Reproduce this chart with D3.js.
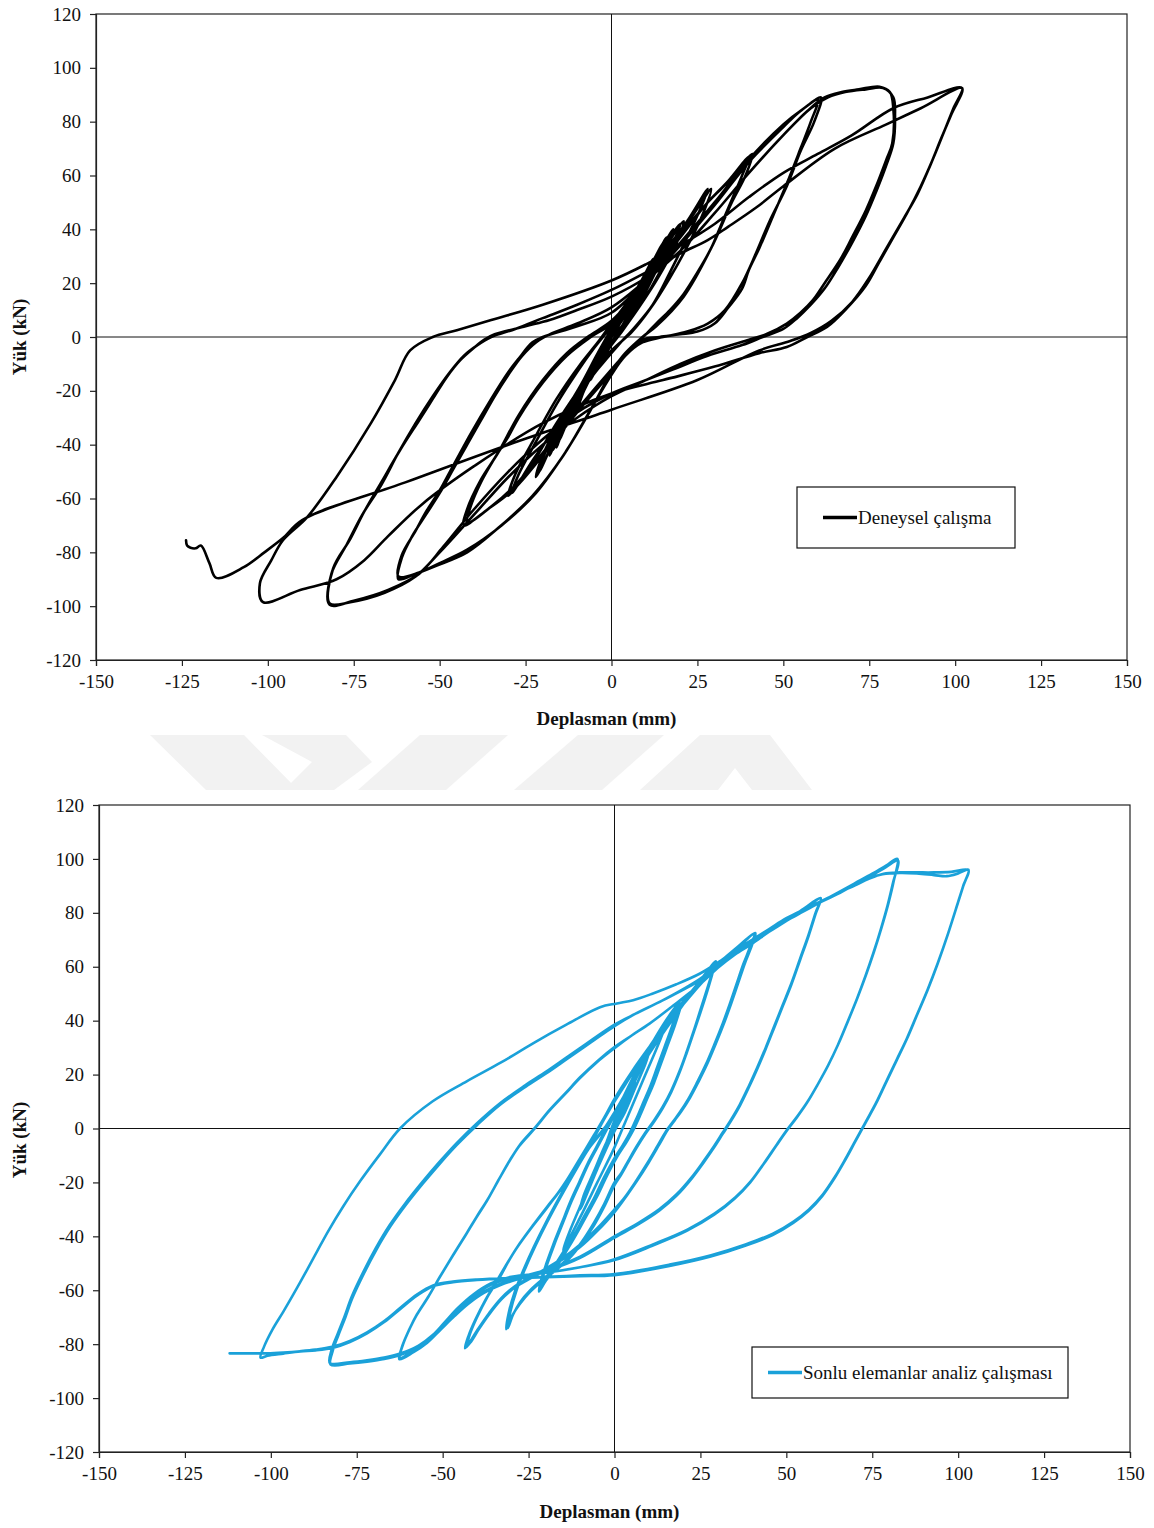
<!DOCTYPE html>
<html><head><meta charset="utf-8">
<script src="https://cdn.jsdelivr.net/npm/d3@7"></script>
<style>body{margin:0;background:#fff}svg{display:block}</style>
</head><body>
<svg id="chart" width="1154" height="1528"></svg>
<script>
// ---------- axis tick values ----------
const xTickValues = [-150,-125,-100,-75,-50,-25,0,25,50,75,100,125,150];
const yTickValues = [-120,-100,-80,-60,-40,-20,0,20,40,60,80,100,120];
const xTitle = "Deplasman (mm)";
const yTitle = "Yük (kN)";
const legendExp = "Deneysel çalışma";
const legendFE = "Sonlu elemanlar analiz çalışması";

// ---------- Experimental (Deneysel) : [displacement mm, load kN] ----------
const expSmall = [
[0,0],[2,5],[4,10],[5,12],[4,9],[2,4],[0,0],[-2,-5],[-4,-10],[-5,-13],[-4,-9],[-2,-4],[0,0],
[3,8],[6,15],[5,11],[3,6],[0,1],[-3,-8],[-6,-16],[-5,-12],[-3,-6],[0,0],
[4,10],[8,19],[10,24],[9,20],[6,12],[3,4],[0,0],[-4,-10],[-8,-20],[-10,-27],[-9,-22],[-6,-14],[-3,-6],[0,0],
[5,12],[10,24],[12,29],[10,22],[7,13],[3,4],[0,0],[-5,-12],[-10,-25],[-12,-31],[-10,-24],[-7,-15],[-3,-6],[0,1],
[6,15],[12,28],[15,35],[13,28],[9,17],[5,7],[1,0],[-5,-11],[-11,-26],[-15,-38],[-13,-31],[-9,-20],[-4,-8],[0,1],
[7,16],[13,30],[16,37],[14,29],[10,18],[5,7],[1,0],[-6,-13],[-12,-28],[-16,-41],[-14,-33],[-10,-22],[-5,-9],[0,2],
[8,18],[15,33],[17,38],[15,31],[11,20],[6,9],[2,1],[-4,-9],[-10,-22],[-17,-42],[-15,-35],[-11,-25],[-6,-13],[-2,-3],[0,2],
[7,17],[14,32],[18,40],[16,33],[12,22],[7,10],[2,1],[-5,-11],[-11,-24],[-18,-44],[-16,-37],[-12,-27],[-7,-15],[-2,-4],[0,2]
];
const exp20 = [
[8,19],[14,31],[20,42],[18,35],[14,24],[9,13],[4,4],[0,-2],[-7,-16],[-14,-31],[-21,-50],[-19,-42],[-14,-30],[-9,-18],[-4,-7],[0,2],
[8,18],[14,30],[21,43],[19,35],[14,23],[8,11],[3,2],[0,-3],[-7,-17],[-14,-32],[-22,-52],[-20,-44],[-15,-31],[-9,-18],[-4,-6],[0,3]
];
const exp30 = [
[8,19],[15,31],[22,43],[28,55],[26,48],[22,37],[17,24],[12,12],[7,4],[2,-3],[-4,-12],[-10,-22],[-17,-35],[-23,-46],[-29,-58],[-27,-51],[-22,-39],[-16,-25],[-10,-13],[-5,-4],[0,4],
[8,18],[15,30],[23,44],[29,55],[27,47],[23,36],[17,22],[11,10],[6,2],[0,-5],[-8,-17],[-16,-32],[-23,-47],[-30,-59],[-28,-51],[-23,-39],[-16,-23],[-9,-10],[-4,-2],[0,5]
];
const exp40 = [
[10,22],[20,38],[28,50],[34,58],[40,67],
[38,60],[35,51],[32,42],[29,33],[25,24],[21,16],[17,10],[13,5],[10,1],[5,-5],[0,-12],[-10,-27],[-20,-43],[-28,-55],[-35,-63],[-42,-69],
[-41,-63],[-38,-54],[-34,-45],[-30,-37],[-27,-30],[-20,-17],[-13,-7],[-6,0],[0,5],
[10,21],[20,37],[28,50],[35,59],[41,68],
[39,60],[35,50],[29,33],[21,15],[13,4],[9,0],[4,-6],[0,-13],[-10,-28],[-20,-44],[-28,-56],[-36,-64],[-43,-70],
[-42,-64],[-38,-53],[-33,-43],[-27,-29],[-20,-16],[-13,-6],[-7,0],[0,6]
];
const exp60 = [
[10,20],[20,34],[30,49],[40,65],[50,78],[55,84],[60,88],
[58,80],[55,70],[51,57],[47,45],[43,33],[40,25],[38,18],[34,11],[30,5],[25,2],[20,1],[14,0],[9,-1],[4,-6],[0,-13],[-6,-27],[-13,-42],[-22,-58],[-32,-70],[-42,-79],[-50,-84],[-56,-87.5],[-62,-89],
[-61,-81],[-57,-72],[-54,-65],[-50,-57],[-47,-50],[-44,-43],[-41,-36],[-35,-23],[-30,-13],[-27,-8],[-23,-2],[-20,0],[-10,4],[0,9],
[10,21],[20,35],[30,50],[40,66],[50,79],[56,85],[61,89],
[59,80],[55,69],[51,56],[46,43],[42,31],[38,20],[33,10],[28,5],[22,2],[15,0],[9,-2],[4,-7],[0,-14],[-7,-29],[-14,-44],[-23,-59],[-33,-71],[-42,-80],[-51,-85],[-57,-88],[-62,-90],
[-61,-82],[-58,-74],[-54,-66],[-50,-58],[-46,-49],[-42,-40],[-38,-31],[-34,-22],[-30,-14],[-26,-7],[-22,-2],[-18,1],[-10,5],[0,11]
];
const exp80 = [
[10,21],[20,32],[30,46],[40,61],[50,75],[57,84],[62,89],[67,91],[72,92],[78,93],[81,91],
[82,85],[81.7,72],[80,66],[77,56],[74,47],[70,37],[66.5,28.6],[62,20],[58.6,13.7],[55,9],[51,5],[45,1],[40,-1],[30,-5],[20,-10],[10,-16],[0,-22],[-10,-30],[-20,-40],[-30,-52],[-40,-66],[-50,-80],[-57,-89],[-66,-95],[-76,-98.5],[-82,-99],
[-81,-86],[-76,-75],[-72,-65],[-67,-54],[-61.5,-42],[-56,-31],[-52,-23],[-48,-15],[-44,-8.6],[-40,-4],[-37,-1],[-34,1],[-25,4],[-18,6.3],[-10,10],[0,15],
[10,22],[20,32],[30,46],[40,61],[50,75],[58,85],[63,89],[68,91],[74,92],[79,92.5],[82,89],
[82.5,82],[82,72],[80,64],[77,54],[74,45],[70,35],[66,26],[62,18],[58,12],[54,7],[50,3],[44,0],[38,-3],[28,-7],[18,-12],[8,-17],[0,-21],[-10,-28],[-20,-38],[-30,-50],[-40,-64],[-49,-78],[-56,-88],[-65,-94],[-75,-98],[-82,-99.5],
[-81.5,-88],[-77,-77],[-72.5,-66],[-67,-55],[-62,-43],[-57,-32],[-52,-22],[-47,-13],[-43,-7],[-39,-3],[-35,0],[-28,3],[-20,7],[-10,12],[0,17.5]
];
const exp100 = [
[10,24],[20,31],[28,36],[34,41],[42,48],[50,56],[65,70],[80,79],[90,85],[102,92.5],
[99.5,85],[97,77],[93.5,66],[90,56],[86,46],[82,37],[78,28],[74,19],[68,10],[62.7,3.7],[57,0],[51,-3.7],[43,-6],[30,-11],[15,-16],[0,-21],[-20,-32],[-40,-48],[-55,-62],[-65,-74],[-72,-83],[-80,-90],[-90.6,-94],[-101.4,-98.5],
[-102.3,-91.5],[-99,-83],[-95.6,-75.5],[-88.6,-67],[-80,-52],[-70,-32],[-63,-16],[-58.6,-5],[-52,0],[-45,2.5],[-35,6.3],[-20,12],[0,21],
[10,27],[20,34],[30,42],[40,52],[50,61],[60,68],[70,75],[82,85],[92,89],[102,92.5],
[99,83],[96,74],[92.5,63],[89,53],[85,44],[80,33],[75,22],[70,13],[64,6],[58,1.5],[52,-1.5],[43,-5],[25,-16],[0,-27],[-30,-40],[-60,-54],[-90,-68],[-95.6,-74.7],[-101,-80],[-107,-85.5],[-115,-89.5],[-117,-84],[-119.5,-77.5],[-121,-78.5],[-122.5,-78.3],[-123.5,-77.5],[-123.8,-75.5]
];

// ---------- Finite element (Sonlu elemanlar) : [displacement mm, load kN] ----------
const feSmall = [
[0,0],[3,9],[6,17],[5,14],[3,8],[0,0],[-3,-9],[-6,-17],[-5,-14],[-3,-8],[0,0],
[5,15],[10,28],[9,24],[6,15],[3,6],[0,-1],[-5,-15],[-10,-30],[-9,-25],[-6,-16],[-3,-7],[0,1],
[6,18],[12,33],[15,39],[13,32],[9,20],[5,8],[2,-1],[0,-7],[-5,-20],[-10,-33],[-15,-45],[-13,-38],[-9,-26],[-5,-14],[-2,-4],[0,3]
];
const fe20 = [
[4,13],[8,24],[12,33],[16,41],[19,47],
[18,43],[16.5,37],[14.5,30],[12.5,23],[10.5,16],[8.5,10],[6.5,4],[4.5,-1.5],[2.5,-6],[0,-11],[-3,-18],[-6,-26],[-9,-33],[-12,-40],[-15,-46],[-18,-52],[-20.5,-57],[-21.7,-60],
[-21,-56],[-19.5,-50],[-17.5,-43],[-15,-35],[-12.5,-27],[-10,-20],[-7.5,-13],[-5,-7],[-2.5,-1],[0,5],
[4,15],[8,25],[12,34],[16,42],[20,48.5],
[19,44],[17.5,38],[15.5,31],[13.5,24],[11.5,17],[9.5,11],[7.5,5],[5.5,-0.5],[3.5,-5],[1,-10],[-2,-17],[-5,-25],[-8,-32],[-11,-39],[-14,-45.5],[-17,-51.5],[-20,-56.5],[-22,-60.5],
[-21.3,-56],[-19.8,-50],[-17.8,-43],[-15.3,-35],[-12.8,-27],[-10.3,-20],[-7.8,-13],[-5.3,-7],[-2.8,-1],[0,5]
];
const fe30 = [
[5,18],[10,30],[15,39],[20,47],[25,55],[29.5,62],
[28.5,58],[27,52],[25,44],[23,36],[21,28.5],[19,21.5],[16.5,14],[14,8],[11.5,3],[9,-1.5],[6.5,-6.5],[4,-12],[2,-16.5],[0,-20],[-3,-28],[-6,-35],[-9.5,-42],[-13,-47.5],[-17,-52],[-21,-56],[-24.5,-60],[-27.5,-64.5],[-29.5,-69],[-31,-74],
[-30.3,-68],[-28.5,-60],[-26,-52],[-23,-43.5],[-19.5,-34.5],[-15.5,-25],[-11.5,-16],[-7.5,-7.5],[-3.5,-1],[0,6],[5,17],[10,27.5],[15,37],[20,46],[25,55],[29.5,62],
[28.5,57.5],[27,51],[25,43],[23,35.5],[21,28],[19,21],[16.5,13.5],[14,7.5],[11.5,2.5],[9,-2],[6.5,-7],[4,-12.5],[2,-17],[0,-21],[-3,-29],[-6,-36],[-9.5,-42.5],[-13,-48],[-17,-52.5],[-21,-56.5],[-24.5,-60.5],[-27.5,-65],[-29.8,-69.5],[-31.5,-74.5],
[-30.8,-68.5],[-29,-60.5],[-26.5,-52.5],[-23.5,-44],[-20,-35],[-16,-25.5],[-12,-16.5],[-8,-8],[-4,-1.5],[0,5]
];
const fe40 = [
[5,17],[10,28],[15,37],[20,46],[25,55],[30,61],[35,66.5],[40.6,72],
[39.5,67.5],[37.5,61],[35.5,53.5],[33.5,46],[31.5,39],[29,31],[26.5,23.5],[24,17],[21.5,11],[19,6],[17,2.5],[15,-1],[12.5,-6.5],[9.5,-13],[6,-20],[3,-25.5],[0,-30],
[-5,-37],[-10,-43],[-15,-48],[-20,-52],[-25,-55.5],[-29,-58.5],[-33,-63],[-36.5,-68.5],[-39.5,-74],[-42,-79],[-43,-81],
[-42,-76],[-40,-70],[-37,-62.5],[-33.3,-55],[-30.5,-48.5],[-27.5,-42.5],[-23.5,-35.5],[-19.6,-29],[-16.5,-24],[-13.8,-19],[-10,-11],[-6,-2.5],[-3,4],[0,11],[5,21],[10,30],[15,38.5],[20,46],[25,53.5],[30,60],[35,66],[41,72.5],
[40,68],[38,61.5],[36,54],[34,46.5],[32,39.5],[29.5,31.5],[27,24],[24.5,17.5],[22,11.5],[19.5,6.5],[17.5,3],[15.5,-0.5],[13,-6],[10,-12.5],[6.5,-19.5],[3.5,-25],[0,-31],
[-5,-38],[-10,-44],[-15,-48.5],[-20,-52.5],[-25,-56],[-29,-59],[-33,-63.5],[-36.5,-69],[-39.5,-74.5],[-42,-79.5],[-43.5,-81.5],
[-42.5,-77],[-40.5,-71],[-37.5,-63.5],[-34,-56],[-31,-49.5],[-28,-43.5],[-24,-36.5],[-20,-30],[-17,-25],[-14,-20],[-10,-12],[-6,-3.5],[-3,3.5],[0,10]
];
const fe60 = [
[5,20],[10,30],[15,38.5],[20,46.5],[25,54],[30,60],[35,65],[40,69],[45,73.5],[50,77],[55,81],[60,85.4],
[58.5,80],[56.5,72],[54,63],[51.5,54],[49,46],[46.5,38],[44,30],[41.5,22.5],[39,15.5],[36.5,9],[34,3.5],[31.5,-1.5],[29,-6.5],[26,-12],[22.5,-18],[18,-24.5],[13,-30],[7,-35],[0,-40],
[-10,-47.5],[-20,-52.5],[-27,-55],[-33,-57.5],[-38,-60.5],[-42.5,-64.5],[-46.5,-69],[-50.5,-74],[-54.5,-79],[-58.5,-82.5],[-62.4,-85],
[-61.5,-80],[-59.5,-74],[-57.5,-69],[-54,-62],[-50.8,-55],[-47,-47],[-43,-38.8],[-40,-32.5],[-37,-26.5],[-33.7,-19],[-30.4,-11.7],[-27.5,-6],[-23,0.5],[-18.8,7],[-14,13.5],[-10,19],[-5,25],[0,30.2],[5,34.5],[10.3,39],[17,45.5],[24.9,53.5],[30,59.5],[35,64.5],[40,68.5],[45,73],[50,77],[55,81.5],[60,85.5],
[58.5,79.5],[56.5,71.5],[54,62.5],[51.5,53.5],[49,45.5],[46.5,37.5],[44,29.5],[41.5,22],[39,15],[36.5,8.5],[34,3],[31.5,-2],[29,-7],[26,-12.5],[22.5,-18.5],[18,-25],[13,-30.5],[7,-35.5],[0,-40.5],
[-10,-48],[-20,-53],[-27,-55.5],[-33,-58],[-38,-61],[-42.5,-65],[-46.5,-69.5],[-50.5,-74.5],[-54.5,-79.5],[-58.5,-83],[-62.6,-85.6],
[-61.7,-80.5],[-59.7,-74.5],[-57.7,-69.5],[-54.2,-62.5],[-51,-55.5],[-47.2,-47.5],[-43.2,-39.3],[-40.2,-33],[-37.2,-27],[-33.9,-19.5],[-30.6,-12.2],[-27.7,-6.5],[-23.2,0],[-19,6.5],[-14.2,13],[-10.2,18.5],[-5.2,24.5],[0,29.8]
];
const fe80 = [
[5,34.5],[10.3,39],[17,45.5],[24.9,53.5],[30,59.5],[35,64.5],[40,68.5],[45,73],[50,77],[55,80.5],[60,84],[65,87],[70,90.5],[75,94],[79,97],[82.5,99.4],
[81,91],[79.5,83],[77.5,74],[75.3,65],[73,56.5],[70.5,48],[67.8,39.5],[65,31],[62,23],[59,16],[56,9.5],[53,4],[50,-1],[47,-6.5],[43.5,-13],[39.5,-20],[35,-26],[29,-32],[21,-38],[11,-43.5],[0,-48.8],
[-10,-51.5],[-20,-53.5],[-30,-55],[-36,-57.5],[-41,-61.5],[-45.5,-66.5],[-49.5,-72],[-52.8,-76.5],[-57,-80.5],[-62.4,-83.5],[-67,-85],[-72,-86],[-77,-86.7],[-82.8,-87],
[-82.3,-82],[-80.5,-76],[-78.5,-69.5],[-76.5,-62.5],[-73,-53],[-69.5,-44.5],[-65.5,-36],[-61,-28],[-56,-20],[-51,-12.5],[-46,-5.5],[-40,2],[-33.3,9.4],[-26,16],[-20,21],[-13.8,26.5],[-7,32.5],[0,38.5],[6,42.5],[14,47.5],[24.9,55],[30,60],[35,64.5],[40,69],[45,73],[50,77],[55,80.5],[60,84],[65,87.5],[70,91],[75,94.5],[79,97.5],[82.3,100],
[81.2,91.5],[79.7,83.5],[77.7,74.5],[75.5,65.5],[73.2,57],[70.7,48.5],[68,40],[65.2,31.5],[62.2,23.5],[59.2,16.5],[56.2,10],[53.2,4.5],[50.2,-0.5],[47.2,-6],[43.7,-12.5],[39.7,-19.5],[35.2,-25.5],[29.2,-31.5],[21.2,-37.5],[11.2,-43],[0,-48.5],
[-10,-51.5],[-20,-53.5],[-30,-55.3],[-36,-58],[-41,-62],[-45.5,-67],[-49.5,-72.5],[-52.8,-77],[-57,-81],[-62.4,-84],[-67,-85.5],[-72,-86.5],[-77,-87.2],[-82.6,-87.6],
[-82,-82.5],[-80.3,-76.5],[-78.3,-70],[-76.3,-63],[-72.8,-53.5],[-69.3,-45],[-65.3,-36.5],[-60.8,-28.5],[-55.8,-20.5],[-50.8,-13],[-45.8,-6],[-39.8,1.5],[-33.1,9],[-25.8,15.5],[-19.8,20.5],[-13.6,26],[-6.8,32],[0,38]
];
const fe100 = [
[6,42.5],[14,47.5],[24.9,55.5],[30,60.5],[35,65],[40,69.5],[45,73.5],[50,77.5],[55,81],[60,84],[65,87.5],[70,90.5],[74,92.8],[78,94.3],[83,94.8],[88,94.6],[93,94],[96.7,93.6],[100,94.6],[103,96],
[101.5,90],[100,84],[97,72],[94,61],[91,51],[88,42],[85,33],[82,25],[79,17],[76,9],[73,2],[70,-5],[67,-12],[64,-18.5],[60.5,-25],[56.5,-30.5],[52,-35],[46,-39.5],[38,-43.5],[28,-47.5],[16,-51],[0,-54.4],
[-10,-54.8],[-20,-55.2],[-30,-55.6],[-40,-56.2],[-47,-57],[-52.8,-58.5],[-57.5,-62],[-62.4,-67],[-67,-71.8],[-72,-76],[-77,-79.2],[-81.8,-81.3],[-87,-82.3],[-91.4,-82.7],[-96.4,-83.5],[-101,-84.3],[-103,-85],
[-102,-81],[-99.5,-74.5],[-96.4,-68],[-93,-60.5],[-89.5,-52.5],[-86.5,-45.5],[-83.5,-38.5],[-79,-29],[-74,-19.5],[-68.2,-9.5],[-62.4,0],[-53,10],[-43,17.5],[-33,24.5],[-23.7,31.6],[-14,38.5],[-4.2,45],[0.7,46.4],[5.4,47.6],[11,50],[18,53.5],[24.9,57.5],[30,61.5],[35,66],[40,70],[45,74],[50,78],[55,81.2],[60,84.2],[65,87.3],[70,90.2],[74,92.6],[78.3,94.5],[83,95],[88,95],[93,95],[98,95.2],[103,95.8],
[101.6,90.5],[100.1,84.5],[97.1,72.5],[94.1,61.5],[91.1,51.5],[88.1,42.5],[85.1,33.5],[82.1,25.5],[79.1,17.5],[76.1,9.5],[73.1,2.5],[70.1,-4.5],[67.1,-11.5],[64.1,-18],[60.6,-24.5],[56.6,-30],[52.1,-34.5],[46.1,-39],[38.1,-43],[28.1,-47],[16,-50.5],[0,-54],
[-10,-54.5],[-20,-55],[-30,-55.4],[-40,-56],[-47,-56.8],[-52.8,-58.2],[-57.5,-61.6],[-62.4,-66.6],[-67,-71.4],[-72,-75.6],[-77,-78.8],[-81.8,-80.9],[-87,-82],[-91.4,-82.6],[-96.4,-83.1],[-101,-83.4],[-106,-83.4],[-112,-83.4]
];

const expPath = [].concat(expSmall, exp20, exp30, exp40, exp60, exp80, exp100);
const fePath = [].concat(feSmall, fe20, fe30, fe40, fe60, fe80, fe100);

// ---------- layout ----------
const panels = [
  {data: expPath, color: "#000000", width: 2.6, legend: legendExp,
   box: {l: 96, r: 1127, t: 14, b: 660},
   leg: {x: 797, y: 487, w: 218, h: 61, lx1: 823, lx2: 857, tx: 858},
   xTitleY: 725, yTitleY: 337},
  {data: fePath, color: "#1aa1d9", width: 2.6, legend: legendFE,
   box: {l: 99, r: 1130, t: 805, b: 1452},
   leg: {x: 752, y: 1347, w: 316, h: 51, lx1: 768, lx2: 802, tx: 803},
   xTitleY: 1518, yTitleY: 1140}
];

// faint background watermark between the two panels (decoration only)
const watermarkShapes = [
  [[150,735],[244,735],[298,790],[206,790]],
  [[262,735],[346,735],[372,762],[334,790],[284,790],[312,762]],
  [[420,735],[508,735],[446,790],[358,790]],
  [[578,735],[664,735],[602,790],[514,790]],
  [[700,735],[770,735],[812,790],[752,790],[735,768],[718,790],[640,790]]
];

const svg = d3.select("#chart");
const FONT = "'Liberation Serif','Times New Roman',serif";

svg.append("g").selectAll("polygon").data(watermarkShapes).join("polygon")
  .attr("points", d => d.map(p => p.join(",")).join(" "))
  .attr("fill", "#f2f2f2");

panels.forEach((p, i) => {
  const x = d3.scaleLinear().domain([-150, 150]).range([p.box.l, p.box.r]);
  const y = d3.scaleLinear().domain([-120, 120]).range([p.box.b, p.box.t]);
  const g = svg.append("g");

  g.append("rect").attr("x", p.box.l).attr("y", p.box.t)
    .attr("width", p.box.r - p.box.l).attr("height", p.box.b - p.box.t)
    .attr("fill", "#fff").attr("stroke", "#222").attr("stroke-width", 1.2);

  g.append("line").attr("x1", x(0)).attr("x2", x(0)).attr("y1", p.box.t).attr("y2", p.box.b)
    .attr("stroke", "#111").attr("stroke-width", 1);
  g.append("line").attr("x1", p.box.l).attr("x2", p.box.r).attr("y1", y(0)).attr("y2", y(0))
    .attr("stroke", "#111").attr("stroke-width", 1);

  const ax = g.append("g").attr("transform", `translate(0,${p.box.b})`)
    .call(d3.axisBottom(x).tickValues(xTickValues).tickSize(6).tickPadding(9).tickFormat(d => String(d)));
  const ay = g.append("g").attr("transform", `translate(${p.box.l},0)`)
    .call(d3.axisLeft(y).tickValues(yTickValues).tickSize(6).tickPadding(9).tickFormat(d => String(d)));
  [ax, ay].forEach(a => {
    a.select(".domain").attr("stroke", "#222").attr("stroke-width", 1.2);
    a.selectAll(".tick line").attr("stroke", "#222").attr("stroke-width", 1.2);
    a.selectAll("text").attr("font-family", FONT).attr("font-size", 19).attr("fill", "#111");
  });

  const clipId = "clip" + i;
  svg.append("clipPath").attr("id", clipId).append("rect")
    .attr("x", p.box.l).attr("y", p.box.t).attr("width", p.box.r - p.box.l).attr("height", p.box.b - p.box.t);
  const line = d3.line().x(d => x(d[0])).y(d => y(d[1])).curve(d3.curveCatmullRom.alpha(0.5));
  g.append("path").attr("clip-path", `url(#${clipId})`).datum(p.data).attr("d", line)
    .attr("fill", "none").attr("stroke", p.color).attr("stroke-width", p.width)
    .attr("stroke-linejoin", "round").attr("stroke-linecap", "round");

  g.append("text").attr("x", (p.box.l + p.box.r) / 2 - 5).attr("y", p.xTitleY)
    .attr("text-anchor", "middle").attr("font-family", FONT).attr("font-weight", "bold")
    .attr("font-size", 19).attr("fill", "#111").text(xTitle);
  g.append("text").attr("transform", `translate(26,${p.yTitleY}) rotate(-90)`)
    .attr("text-anchor", "middle").attr("font-family", FONT).attr("font-weight", "bold")
    .attr("font-size", 19).attr("fill", "#111").text(yTitle);

  g.append("rect").attr("x", p.leg.x).attr("y", p.leg.y).attr("width", p.leg.w).attr("height", p.leg.h)
    .attr("fill", "#fff").attr("stroke", "#111").attr("stroke-width", 1.2);
  const ly = p.leg.y + p.leg.h / 2;
  g.append("line").attr("x1", p.leg.lx1).attr("x2", p.leg.lx2).attr("y1", ly).attr("y2", ly)
    .attr("stroke", p.color).attr("stroke-width", 3.5);
  g.append("text").attr("x", p.leg.tx).attr("y", ly + 6).attr("font-family", FONT)
    .attr("font-size", 19).attr("fill", "#111").text(p.legend);
});
</script>
</body></html>
